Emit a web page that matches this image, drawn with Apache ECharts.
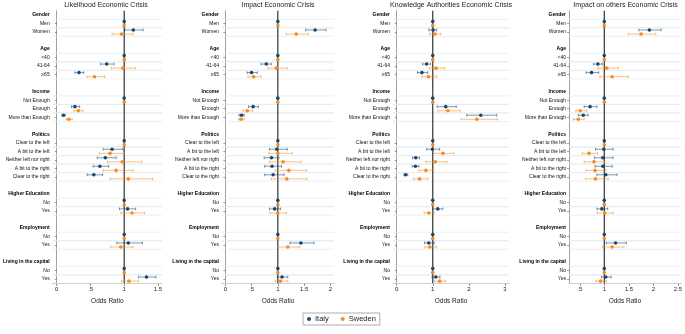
<!DOCTYPE html>
<html>
<head>
<meta charset="utf-8">
<script src="https://cdn.jsdelivr.net/npm/echarts@6/dist/echarts.min.js"></script>
<style>
  html, body { margin: 0; padding: 0; background: #fff; }
  #chart { width: 685px; height: 334px; }
</style>
</head>
<body>
<div id="chart"></div>
<script>
// rows of the y axis (top to bottom), '' = spacer row
const rowLabels = [
  'Gender', 'Men', 'Women', '',
  'Age', '<40', '41-64', '≥65', '',
  'Income', 'Not Enough', 'Enough', 'More than Enough', '',
  'Politics', 'Clear to the left', 'A bit to the left', 'Neither left nor right', 'A bit to the right', 'Clear to the right', '',
  'Higher Education', 'No', 'Yes', '',
  'Employment', 'No', 'Yes', '',
  'Living in the capital', 'No', 'Yes'
]
const headers = ['Gender', 'Age', 'Income', 'Politics', 'Higher Education', 'Employment', 'Living in the capital']

const titles = ['Likelihood Economic Crisis', 'Impact Economic Crisis', 'Knowledge Authorities Economic Crisis', 'Impact on others Economic Crisis']
const ticks1 = [0, 0.5, 1, 1.5]
const ticks2 = [0, 0.5, 1, 1.5, 2]
const ticks3 = [0, 1, 2, 3]
const ticks4 = [0.5, 1, 1.5, 2, 2.5]

// odds ratio [estimate, lower, upper] per item row; reference categories = [1]
const likelihoodItaly = [
  [1], [1.135, 1.01, 1.28],
  [1], [0.74, 0.65, 0.85], [0.33, 0.27, 0.40],
  [1], [0.27, 0.22, 0.34], [0.10, 0.08, 0.125],
  [1], [0.82, 0.69, 0.98], [0.72, 0.60, 0.88], [0.64, 0.54, 0.77], [0.55, 0.45, 0.68],
  [1], [1.05, 0.93, 1.17],
  [1], [1.06, 0.89, 1.27],
  [1], [1.33, 1.21, 1.47]
]
const likelihoodSweden = [
  [1], [0.96, 0.82, 1.13],
  [1], [0.98, 0.81, 1.17], [0.56, 0.45, 0.71],
  [1], [0.32, 0.25, 0.39], [0.18, 0.14, 0.23],
  [1], [0.79, 0.63, 1.00], [0.97, 0.75, 1.26], [0.88, 0.69, 1.13], [1.06, 0.79, 1.42],
  [1], [1.115, 0.95, 1.30],
  [1], [0.95, 0.80, 1.13],
  [1], [1.07, 0.96, 1.21]
]
const impactItaly = [
  [1], [1.71, 1.53, 1.92],
  [1], [0.78, 0.68, 0.875], [0.50, 0.415, 0.61],
  [1], [0.53, 0.44, 0.63], [0.31, 0.26, 0.36],
  [1], [0.98, 0.84, 1.18], [0.88, 0.74, 1.02], [0.89, 0.75, 1.07], [0.91, 0.75, 1.12],
  [1], [0.94, 0.84, 1.05],
  [1], [1.44, 1.23, 1.69],
  [1], [1.08, 0.99, 1.19]
]
const impactSweden = [
  [1], [1.35, 1.16, 1.58],
  [1], [0.97, 0.81, 1.18], [0.54, 0.43, 0.68],
  [1], [0.42, 0.34, 0.52], [0.30, 0.255, 0.36],
  [1], [1.0, 0.83, 1.27], [1.10, 0.84, 1.44], [1.21, 0.95, 1.55], [1.17, 0.875, 1.56],
  [1], [1.0, 0.85, 1.17],
  [1], [1.19, 1.0, 1.42],
  [1], [1.05, 0.95, 1.19]
]
const knowledgeItaly = [
  [1], [1.01, 0.89, 1.11],
  [1], [0.83, 0.72, 0.94], [0.70, 0.58, 0.86],
  [1], [1.36, 1.12, 1.65], [2.33, 1.94, 2.77],
  [1], [0.99, 0.83, 1.19], [0.53, 0.44, 0.635], [0.52, 0.43, 0.62], [0.25, 0.20, 0.31],
  [1], [1.14, 1.01, 1.28],
  [1], [0.89, 0.77, 1.04],
  [1], [1.085, 0.98, 1.20]
]
const knowledgeSweden = [
  [1], [1.06, 0.91, 1.22],
  [1], [1.09, 0.91, 1.33], [0.88, 0.70, 1.11],
  [1], [1.42, 1.14, 1.76], [2.22, 1.78, 2.79],
  [1], [1.28, 1.03, 1.58], [1.07, 0.81, 1.39], [0.81, 0.62, 1.03], [0.635, 0.47, 0.865],
  [1], [0.89, 0.76, 1.04],
  [1], [0.92, 0.78, 1.10],
  [1], [1.19, 1.05, 1.35]
]
const othersItaly = [
  [1], [1.92, 1.705, 2.16],
  [1], [0.87, 0.78, 0.96], [0.74, 0.63, 0.885],
  [1], [0.71, 0.59, 0.85], [0.57, 0.47, 0.67],
  [1], [0.99, 0.82, 1.18], [0.97, 0.80, 1.18], [0.97, 0.81, 1.16], [1.03, 0.85, 1.26],
  [1], [0.95, 0.85, 1.07],
  [1], [1.23, 1.04, 1.45],
  [1], [1.03, 0.94, 1.14]
]
const othersSweden = [
  [1], [1.75, 1.49, 2.05],
  [1], [1.05, 0.87, 1.285], [1.16, 0.91, 1.49],
  [1], [0.51, 0.42, 0.64], [0.47, 0.37, 0.59],
  [1], [0.69, 0.55, 0.86], [0.79, 0.59, 1.01], [0.81, 0.63, 1.03], [0.82, 0.62, 1.08],
  [1], [1.01, 0.86, 1.18],
  [1], [1.16, 0.96, 1.40],
  [1], [0.925, 0.83, 1.04]
]

const FONT = '"Liberation Sans", Arial, Helvetica, sans-serif'
const ITALY = '#1a476f'
const ITALY_CI = 'rgba(26,71,111,0.62)'
const SWEDEN = '#fb8a1c'
const SWEDEN_CI = 'rgba(251,138,28,0.62)'

const isItem = rowLabels.map(l => l !== '' && !headers.includes(l))
const itemRows = rowLabels.map((l, i) => i).filter(i => isItem[i])

const panels = [
  { title: titles[0], left: 50, width: 112, min: -0.06, max: 1.56, ticks: ticks1, italy: likelihoodItaly, sweden: likelihoodSweden },
  { title: titles[1], left: 222, width: 112, min: -0.063, max: 2.07, ticks: ticks2, italy: impactItaly, sweden: impactSweden },
  { title: titles[2], left: 393, width: 116, min: -0.1, max: 3.11, ticks: ticks3, italy: knowledgeItaly, sweden: knowledgeSweden },
  { title: titles[3], left: 569, width: 113, min: 0.28, max: 2.56, ticks: ticks4, italy: othersItaly, sweden: othersSweden }
]
const GRID_TOP = 10.74
const GRID_H = 272.6

const toData = arr => arr.map((d, k) => [d[0], d.length > 1 ? d[1] : null, d.length > 1 ? d[2] : null, itemRows[k]])

const fmtTick = v => String(v).replace(/^0\./, '.')

function pointRenderer(shift, dot, ci) {
  return function (params, api) {
    const est = api.value(0)
    const lo = api.value(1)
    const hi = api.value(2)
    const row = api.value(3)
    const band = api.size([0, 1])[1]
    const c = api.coord([est, row])
    const y = c[1] + shift * band
    const children = []
    if (!isNaN(lo) && !isNaN(hi)) {
      const x1 = api.coord([lo, row])[0]
      const x2 = api.coord([hi, row])[0]
      const ls = { stroke: ci, lineWidth: 0.9 }
      children.push({ type: 'line', shape: { x1: x1, y1: y, x2: x2, y2: y }, style: ls })
      children.push({ type: 'line', shape: { x1: x1, y1: y - 1.4, x2: x1, y2: y + 1.4 }, style: ls })
      children.push({ type: 'line', shape: { x1: x2, y1: y - 1.4, x2: x2, y2: y + 1.4 }, style: ls })
    }
    children.push({ type: 'circle', shape: { cx: c[0], cy: y, r: 1.8 }, style: { fill: dot } })
    return { type: 'group', children: children }
  }
}

function rowLineRenderer(params, api) {
  const row = api.value(0)
  const band = api.size([0, 1])[1]
  const y = api.coord([1, row])[1]
  const cs = params.coordSys
  const st = { stroke: '#e3ecef', lineWidth: 0.8 }
  return {
    type: 'group',
    children: [
      { type: 'line', shape: { x1: cs.x, y1: y - band / 2, x2: cs.x + cs.width, y2: y - band / 2 }, style: st },
      { type: 'line', shape: { x1: cs.x, y1: y + band / 2, x2: cs.x + cs.width, y2: y + band / 2 }, style: st }
    ]
  }
}

function refLineRenderer(params, api) {
  const x = api.coord([api.value(0), 0])[0]
  const cs = params.coordSys
  return { type: 'line', shape: { x1: x, y1: cs.y, x2: x, y2: cs.y + cs.height }, style: { stroke: '#333', lineWidth: 1.2 } }
}

const option = {
  animation: false,
  backgroundColor: '#fff',
  textStyle: { fontFamily: FONT },
  title: panels.map(p => ({
    text: p.title,
    left: p.left + p.width / 2,
    textAlign: 'center',
    top: 2,
    padding: 0,
    textStyle: { fontSize: 7, fontWeight: 'normal', color: '#222', fontFamily: FONT }
  })),
  legend: {
    data: ['Italy', 'Sweden'],
    left: 303,
    top: 313,
    padding: [2, 4, 2, 4],
    icon: 'circle',
    itemWidth: 4,
    itemHeight: 4,
    itemGap: 12,
    borderColor: '#999',
    borderWidth: 0.8,
    textStyle: { fontSize: 7.5, color: '#222', fontFamily: FONT, padding: [0, 0, 0, -1] }
  },
  grid: panels.map(p => ({ left: p.left, top: GRID_TOP, width: p.width, height: GRID_H })),
  xAxis: panels.map((p, i) => ({
    type: 'value',
    gridIndex: i,
    min: p.min,
    max: p.max,
    name: 'Odds Ratio',
    nameLocation: 'middle',
    nameGap: 10,
    nameTextStyle: { fontSize: 6.5, color: '#222', fontFamily: FONT },
    axisLine: { show: true, lineStyle: { color: '#888', width: 0.8 } },
    axisTick: { show: true, length: 2.5, customValues: p.ticks, lineStyle: { color: '#666', width: 0.8 } },
    axisLabel: { customValues: p.ticks, formatter: fmtTick, fontSize: 6, color: '#222', margin: 3.5, fontFamily: FONT },
    splitLine: { show: false }
  })),
  yAxis: panels.map((p, i) => ({
    type: 'category',
    gridIndex: i,
    inverse: true,
    data: rowLabels,
    axisLine: { show: true, lineStyle: { color: '#888', width: 0.8 } },
    axisTick: { show: true, alignWithLabel: true, length: 2, interval: idx => isItem[idx], lineStyle: { color: '#666', width: 0.6 } },
    axisLabel: {
      interval: 0,
      margin: 3,
      fontSize: 5,
      color: '#111',
      fontFamily: FONT,
      formatter: (v, idx) => headers.includes(rowLabels[idx]) ? '{h|' + rowLabels[idx] + '}' : rowLabels[idx],
      rich: { h: { fontWeight: 'bold', fontSize: 5, color: '#000', fontFamily: FONT } }
    },
    splitLine: { show: false }
  })),
  series: []
}

panels.forEach((p, i) => {
  option.series.push({
    type: 'custom', name: 'rows', xAxisIndex: i, yAxisIndex: i, silent: true, z: 1,
    renderItem: rowLineRenderer, data: itemRows.map(r => [r]), encode: { y: 0 }
  })
  option.series.push({
    type: 'custom', name: 'ref', xAxisIndex: i, yAxisIndex: i, silent: true, z: 2,
    renderItem: refLineRenderer, data: [[1]], encode: { x: 0 }
  })
  option.series.push({
    type: 'custom', name: 'Italy', xAxisIndex: i, yAxisIndex: i, z: 3,
    itemStyle: { color: ITALY },
    renderItem: pointRenderer(-0.24, ITALY, ITALY_CI),
    data: toData(p.italy), encode: { x: [0, 1, 2], y: 3 }
  })
  option.series.push({
    type: 'custom', name: 'Sweden', xAxisIndex: i, yAxisIndex: i, z: 3,
    itemStyle: { color: SWEDEN },
    renderItem: pointRenderer(0.24, SWEDEN, SWEDEN_CI),
    data: toData(p.sweden), encode: { x: [0, 1, 2], y: 3 }
  })
})

const myChart = echarts.init(document.getElementById('chart'), null, { renderer: 'canvas' })
myChart.setOption(option)
</script>
</body>
</html>
